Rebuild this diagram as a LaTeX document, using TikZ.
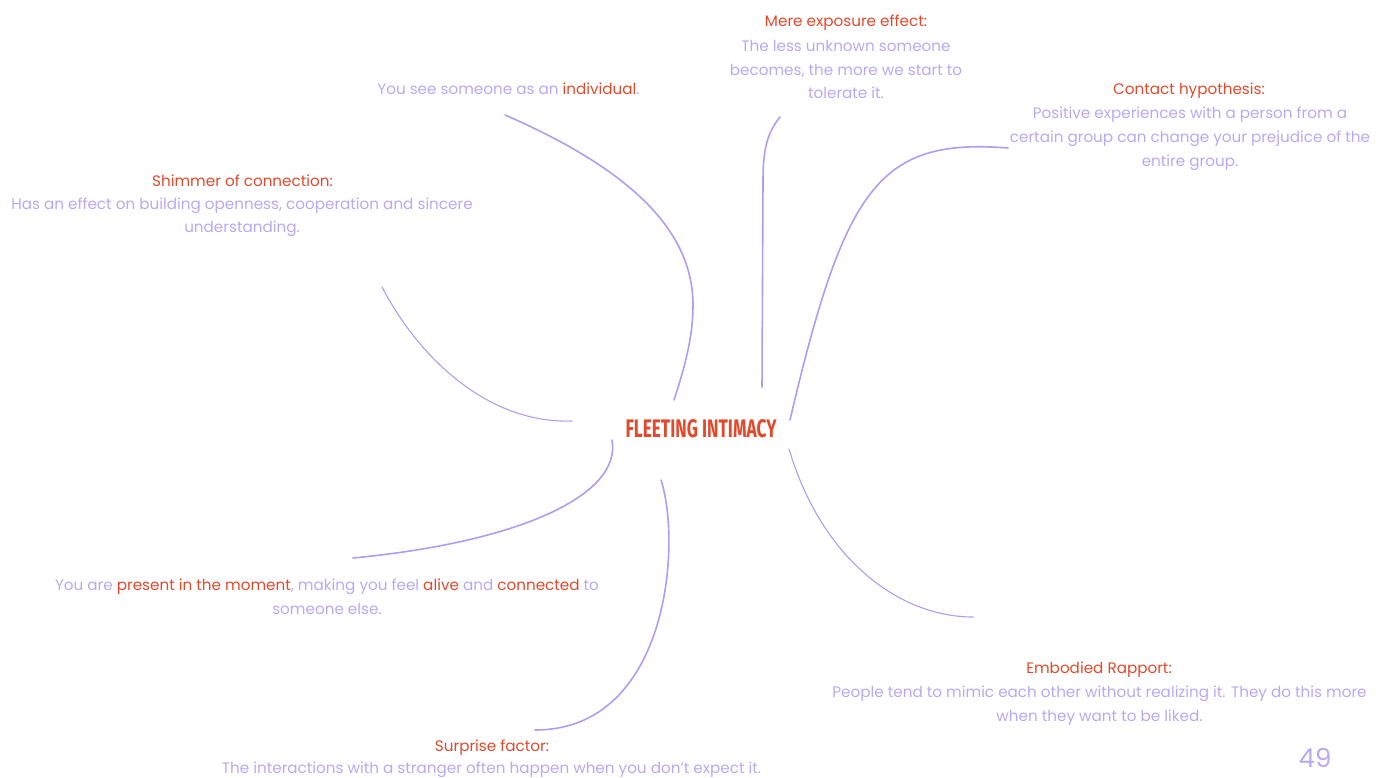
\documentclass[tikz,border=0pt]{standalone}
\usepackage{fontspec}
\setmainfont{Poppins}
\newfontfamily\titlefont{Fira Sans}
\definecolor{accent}{HTML}{E2492B}
\definecolor{lav}{HTML}{BBA8F3}
\definecolor{linec}{HTML}{B29CF0}
\tikzset{
  lbl/.style={anchor=base, inner sep=0pt, font=\fontsize{15.2}{18}\selectfont},
  hd/.style={lbl, text=accent},
  bd/.style={lbl, text=lav},
  branch/.style={draw=linec, line width=1.6pt, line cap=round},
  thin branch/.style={draw=linec, line width=1.1pt, line cap=round}
}
\newcommand{\hl}[1]{\textcolor{accent}{#1}}
\begin{document}
\begin{tikzpicture}[x=1pt,y=-1pt]
\useasboundingbox (0,0) rectangle (1386,778);
% centre
\node[inner sep=0pt, text=accent] (center) at (701,429) {\resizebox{151pt}{18pt}{\titlefont\bfseries FLEETING INTIMACY}};
% individual
\node[bd] (ind) at (508.5,95) {You see someone as an \hl{individual}.};
% mere exposure
\node[hd] (me0) at (846,27) {Mere exposure effect:};
\node[bd] (me1) at (846,52) {The less unknown someone};
\node[bd] (me2) at (846,75.5) {becomes, the more we start to};
\node[bd] (me3) at (846,99) {tolerate it.};
% contact hypothesis
\node[hd] (ch0) at (1189,95) {Contact hypothesis:};
\node[bd] (ch1) at (1190,119) {Positive experiences with a person from a};
\node[bd] (ch2) at (1190,143) {certain group can change your prejudice of the};
\node[bd] (ch3) at (1190,167) {entire group.};
% shimmer
\node[hd] (sh0) at (242.5,187) {Shimmer of connection:};
\node[bd] (sh1) at (242,210) {Has an effect on building openness, cooperation and sincere};
\node[bd] (sh2) at (242,233) {understanding.};
% present
\node[bd] (pr1) at (327,590) {You are \hl{present in the moment}, making you feel \hl{alive} and \hl{connected} to};
\node[bd] (pr2) at (327,614) {someone else.};
% embodied
\node[hd] (em0) at (1099,673) {Embodied Rapport:};
\node[bd] (em1) at (1099.5,697) {People tend to mimic each other without realizing it. They do this more};
\node[bd] (em2) at (1099.5,721) {when they want to be liked.};
% surprise
\node[hd] (su0) at (492,751) {Surprise factor:};
\node[bd] (su1) at (491.5,773) {The interactions with a stranger often happen when you don't expect it.};
% page number
\node[anchor=base, inner sep=0pt, text=lav, font=\fontsize{26}{26}\selectfont] (pg) at (1315,767) {49};
% connector end points
\coordinate (a1) at (505,115); \coordinate (b1) at (674,400);
\coordinate (a2) at (780,117); \coordinate (b2) at (762,387);
\coordinate (a3) at (1008,148); \coordinate (b3) at (790,420);
\coordinate (a4) at (382,287); \coordinate (b4) at (572,421);
\coordinate (a5) at (612,440); \coordinate (b5) at (353,558);
\coordinate (a6) at (661,480); \coordinate (b6) at (535,730);
\coordinate (a7) at (789,449); \coordinate (b7) at (973,617);
% connectors
\draw[branch] (a1) .. controls (620,165) and (693,225) .. (693,305) .. controls (693,340) and (683,372) .. (b1);
\draw[branch] (a2) .. controls (767,133) and (763,150) .. (763,180) -- (b2);
\draw[branch] (a3) .. controls (880,138) and (845,185) .. (b3);
\draw[thin branch] (a4) .. controls (420,360) and (490,424) .. (b4);
\draw[branch] (a5) .. controls (622,495) and (520,542) .. (b5);
\draw[branch] (a6) .. controls (682,545) and (668,730) .. (b6);
\draw[thin branch] (a7) .. controls (822,560) and (900,617) .. (b7);
\end{tikzpicture}
\end{document}
